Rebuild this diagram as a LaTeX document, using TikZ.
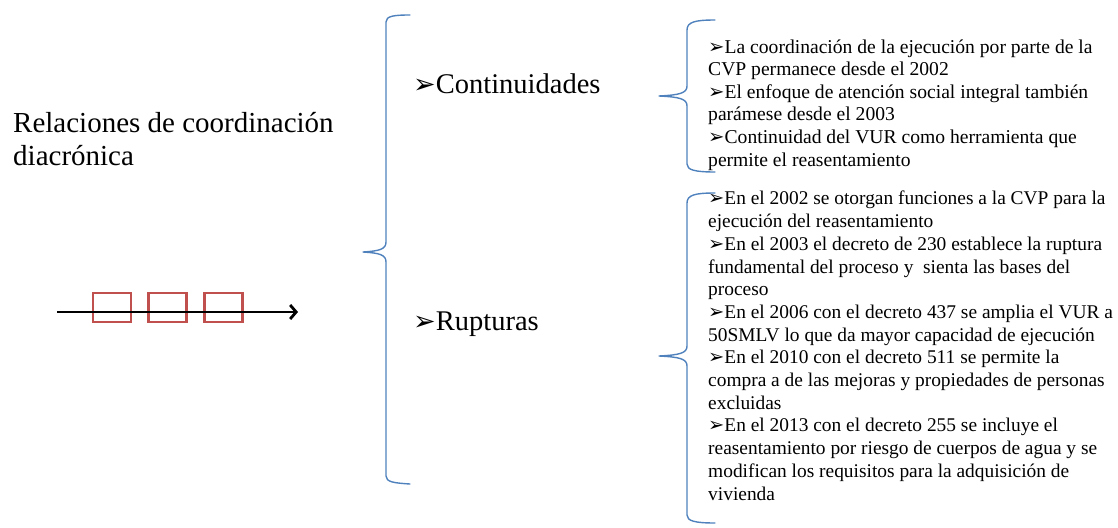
\documentclass[tikz,border=0pt]{standalone}
\usepackage{fontspec}
\setmainfont{Liberation Serif}
\newfontfamily\symfont{DejaVu Sans}
\usetikzlibrary{arrows.meta}
\definecolor{braceblue}{HTML}{4F81BD}
\definecolor{boxred}{HTML}{C0504D}
\newcommand{\bul}{{\symfont\scalebox{1.0}{➢}}}
\newcommand{\bigbul}{{\symfont\scalebox{0.95}{➢}}}
\tikzset{
  bracestyle/.style={draw=braceblue, line width=1.4pt, line join=round, line cap=round},
  tickbox/.style={draw=boxred, line width=2.2pt, minimum width=38pt, minimum height=29pt, inner sep=0pt},
  bigtext/.style={font=\fontsize{29}{33}\selectfont, align=left, inner sep=0pt},
  headtext/.style={font=\fontsize{28.5}{34}\selectfont, inner sep=0pt},
  smalltext/.style={font=\fontsize{19.6}{22.6}\selectfont, align=left, inner sep=0pt},
  midtext/.style={font=\fontsize{19.4}{22.7}\selectfont, align=left, inner sep=0pt},
}
\begin{document}
\begin{tikzpicture}[x=1pt,y=-1pt]
\useasboundingbox (0,0) rectangle (1118,527);

% title (anchored on the baseline of its last line)
\node[bigtext, anchor=base west] (title) at (13,165) {Relaciones de coordinación\\diacrónica};

% time line with three boxes
\node[tickbox] (b1) at (112,307.5) {};
\node[tickbox] (b2) at (167.5,307.5) {};
\node[tickbox] (b3) at (223.5,307.5) {};
\coordinate (t0) at (57,312);
\coordinate (t1) at (298,312);
\draw[line width=2.8pt, -{Straight Barb[length=6pt,width=14pt,line width=2.8pt]}] (t0) -- (t1);

% large brace
\draw[bracestyle] (410,15) .. controls (394,15) and (386,16) .. (386,22)
  -- (386,242) .. controls (386,249) and (380,251) .. (363,252)
  .. controls (380,253) and (386,255) .. (386,262)
  -- (386,476) .. controls (386,482) and (394,483) .. (410,484);

% headings
\node[headtext, anchor=base west] (cont) at (413,93) {\bigbul Continuidades};
\node[headtext, anchor=base west] (rupt) at (413,330) {\bigbul Rupturas};

% upper small brace
\draw[bracestyle] (715,20) .. controls (695,20) and (687,22) .. (687,30)
  -- (687,86) .. controls (687,93) and (680,95) .. (659,96)
  .. controls (680,97) and (687,99) .. (687,106)
  -- (687,164) .. controls (687,170) and (695,172) .. (715,172);

% lower small brace
\draw[bracestyle] (715,193) .. controls (695,193) and (687,195) .. (687,203)
  -- (687,346) .. controls (687,353) and (680,355) .. (659,356)
  .. controls (680,357) and (687,359) .. (687,366)
  -- (687,515) .. controls (687,521) and (695,523) .. (715,523);

% continuities (anchored on the baseline of the last line)
\node[smalltext, anchor=base west] (ctext) at (708,166) {%
\bul La coordinación de la ejecución por parte de la\\
CVP permanece desde el 2002\\
\bul El enfoque de atención social integral también\\
parámese desde el 2003\\
\bul Continuidad del VUR como herramienta que\\
permite el reasentamiento};

% ruptures (anchored on the baseline of the last line)
\node[midtext, anchor=base west] (rtext) at (708,500) {%
\bul En el 2002 se otorgan funciones a la CVP para la\\
ejecución del reasentamiento\\
\bul En el 2003 el decreto de 230 establece la ruptura\\
fundamental del proceso y \ sienta las bases del\\
proceso\\
\bul En el 2006 con el decreto 437 se amplia el VUR a\\
50SMLV lo que da mayor capacidad de ejecución\\
\bul En el 2010 con el decreto 511 se permite la\\
compra a de las mejoras y propiedades de personas\\
excluidas\\
\bul En el 2013 con el decreto 255 se incluye el\\
reasentamiento por riesgo de cuerpos de agua y se\\
modifican los requisitos para la adquisición de\\
vivienda};
\end{tikzpicture}
\end{document}
